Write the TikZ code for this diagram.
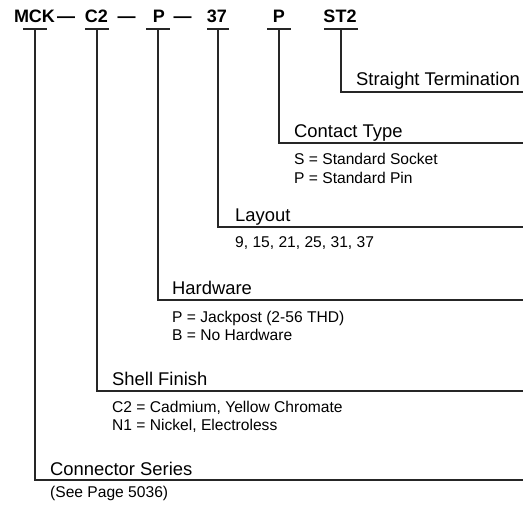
\documentclass[tikz,border=0pt]{standalone}
\usepackage{fontspec}
\setmainfont{Liberation Sans}
\begin{document}
\begin{tikzpicture}[x=1pt,y=-1pt]
\tikzset{
  code/.style={font=\fontsize{18}{20}\selectfont\bfseries, inner sep=0pt, anchor=base},
  field/.style={font=\fontsize{18.4}{20}\selectfont, inner sep=0pt, anchor=base west},
  note/.style={font=\fontsize{15.6}{18.6}\selectfont, inner sep=0pt, anchor=base west},
  rule/.style={line width=1.1pt, black!85},
}
\useasboundingbox (0,0) rectangle (523,508);
\node[code] (mck) at (34.5,23) {MCK};
\node[code] (dasha) at (66,23) {—};
\node[code] (shell) at (96.5,23) {C2};
\node[code] (dashb) at (126.5,23) {—};
\node[code] (hard) at (159,23) {P};
\node[code] (dashc) at (182.5,23) {—};
\node[code] (lay) at (217,23) {37};
\node[code] (cont) at (279,23) {P};
\node[code] (term) at (340,23) {ST2};
\coordinate (mckbar) at (35,29);
\coordinate (shellbar) at (97,29);
\coordinate (hardbar) at (158,29);
\coordinate (laybar) at (218,29);
\coordinate (contbar) at (279,29);
\coordinate (termbar) at (341,29);
\draw[rule] ([xshift=-12pt]mckbar) -- ([xshift=12pt]mckbar);
\draw[rule] ([xshift=-12pt]shellbar) -- ([xshift=12pt]shellbar);
\draw[rule] ([xshift=-12pt]hardbar) -- ([xshift=12pt]hardbar);
\draw[rule] ([xshift=-11pt]laybar) -- ([xshift=11pt]laybar);
\draw[rule] ([xshift=-12pt]contbar) -- ([xshift=12pt]contbar);
\draw[rule] ([xshift=-17pt]termbar) -- ([xshift=17pt]termbar);
\coordinate (termend) at (523,92);
\coordinate (contend) at (523,143);
\coordinate (layend) at (523,227);
\coordinate (hardend) at (523,300);
\coordinate (shellend) at (523,391);
\coordinate (mckend) at (523,480);
\draw[rule] (termbar) |- (termend);
\draw[rule] (contbar) |- (contend);
\draw[rule] (laybar) |- (layend);
\draw[rule] (hardbar) |- (hardend);
\draw[rule] (shellbar) |- (shellend);
\draw[rule] (mckbar) |- (mckend);
\node[field] (termlbl) at (356,85.5) {Straight Termination};
\node[field] (contlbl) at (294,137.5) {Contact Type};
\node[note] (contnotea) at (294,165) {S = Standard Socket};
\node[note] (contnoteb) at (294,184) {P = Standard Pin};
\node[field] (laylbl) at (235,221.5) {Layout};
\node[note] (laynote) at (235,248) {9, 15, 21, 25, 31, 37};
\node[field] (hardlbl) at (172,294.5) {Hardware};
\node[note] (hardnotea) at (172,322.5) {P = Jackpost (2-56 THD)};
\node[note] (hardnoteb) at (172,340.5) {B = No Hardware};
\node[field] (shelllbl) at (112,385.5) {Shell Finish};
\node[note] (shellnotea) at (112,412) {C2 = Cadmium, Yellow Chromate};
\node[note] (shellnoteb) at (112,430.5) {N1 = Nickel, Electroless};
\node[field] (mcklbl) at (50,475.5) {Connector Series};
\node[note] (mcknote) at (50,497) {(See Page 5036)};
\end{tikzpicture}
\end{document}
